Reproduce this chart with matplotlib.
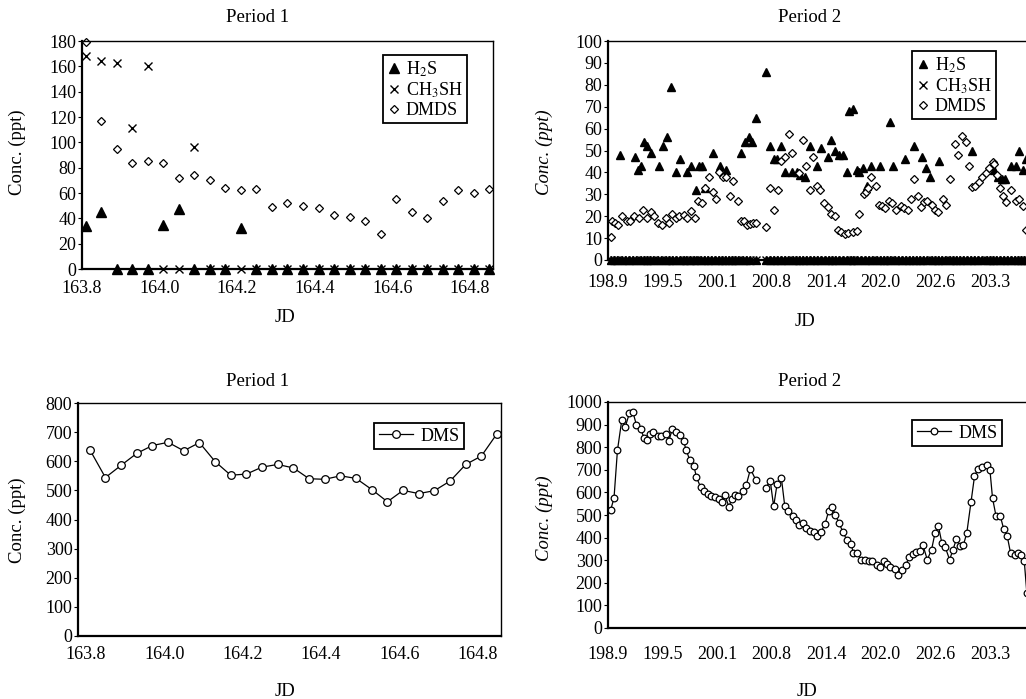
import numpy as np
import matplotlib.pyplot as plt

plt.rcParams['font.family'] = ['Liberation Serif', 'DejaVu Serif']
plt.rcParams['mathtext.fontset'] = 'stix'

# ---- Period 1 (JD 163.8 - 164.9) ----
p1_jd = [163.81, 163.85, 163.89, 163.93, 163.97, 164.01, 164.05, 164.09, 164.13,
         164.17, 164.21, 164.25, 164.29, 164.33, 164.37, 164.41, 164.45, 164.49,
         164.53, 164.57, 164.61, 164.65, 164.69, 164.73, 164.77, 164.81, 164.85]
p1_h2s = [34, 45, 0, 0, 0, 35, 47, 0, 0, 0, 32, 0, 0, 0, 0, 0, 0, 0,
          0, 0, 0, 0, 0, 0, 0, 0, 0]
p1_ch3sh = [168, 164, 163, 111, 160, 0, 0, 96, 0, 0, 0, 0, 0, 0, 0, 0, 0, 0,
            0, 0, 0, 0, 0, 0, 0, 0, 0]
p1_dmds = [179, 117, 95, 84, 85, 84, 72, 74, 70, 64, 62, 63, 49, 52, 50, 48, 43, 41,
           38, 28, 55, 45, 40, 54, 62, 60, 63]
p1_dms = [640, 544, 586, 627, 654, 665, 636, 664, 599, 552, 556, 580, 589, 577, 540,
          538, 550, 541, 503, 461, 500, 489, 499, 532, 589, 618, 695]

# ---- Period 2 (JD 198.9 - 203.8) ----
p2_h2s_jd = [199.04, 199.21, 199.25, 199.28, 199.32, 199.36, 199.40, 199.49, 199.54,
             199.59, 199.63, 199.69, 199.74, 199.82, 199.87, 199.92, 199.96, 199.99,
             200.03, 200.12, 200.21, 200.28, 200.45, 200.50, 200.54, 200.58, 200.62,
             200.74, 200.79, 200.83, 200.87, 200.91, 200.96, 201.04, 201.10, 201.14,
             201.19, 201.25, 201.34, 201.38, 201.46, 201.50, 201.54, 201.59, 201.64,
             201.68, 201.71, 201.76, 201.80, 201.83, 201.87, 201.92, 201.97, 202.07,
             202.18, 202.22, 202.36, 202.47, 202.56, 202.61, 202.65, 202.76, 203.14,
             203.40, 203.44, 203.49, 203.52, 203.60, 203.65, 203.69, 203.73, 203.77]
p2_h2s = [48, 47, 41, 43, 54, 52, 49, 43, 52, 56, 79, 40, 46, 40, 43, 32, 43, 43,
          33, 49, 43, 41, 49, 54, 56, 54, 65, 86, 52, 46, 46, 52, 40, 40, 40, 39,
          38, 52, 43, 51, 47, 55, 50, 48, 48, 40, 68, 69, 41, 40, 42, 34, 43, 43,
          63, 43, 46, 52, 47, 42, 38, 45, 50, 41, 38, 37, 37, 43, 43, 50, 41, 46]

p2_dmds_jd = [198.93, 198.95, 198.98, 199.02, 199.06, 199.12, 199.16, 199.20, 199.26,
              199.31, 199.36, 199.40, 199.44, 199.48, 199.53, 199.57, 199.61, 199.64,
              199.69, 199.73, 199.78, 199.82, 199.87, 199.91, 199.95, 199.99, 200.03,
              200.08, 200.12, 200.16, 200.19, 200.24, 200.28, 200.32, 200.36, 200.41,
              200.45, 200.48, 200.52, 200.56, 200.59, 200.62, 200.74, 200.79, 200.83,
              200.88, 200.92, 200.96, 201.01, 201.04, 201.12, 201.17, 201.21, 201.25,
              201.29, 201.33, 201.37, 201.42, 201.46, 201.50, 201.54, 201.58, 201.62,
              201.66, 201.70, 201.76, 201.80, 201.83, 201.88, 201.91, 201.93, 201.97,
              202.02, 202.06, 202.09, 202.13, 202.17, 202.21, 202.26, 202.31, 202.35,
              202.39, 202.43, 202.47, 202.51, 202.55, 202.58, 202.62, 202.67, 202.71,
              202.75, 202.80, 202.84, 202.88, 202.94, 202.98, 203.02, 203.07, 203.11,
              203.14, 203.18, 203.22, 203.26, 203.30, 203.34, 203.38, 203.40, 203.43,
              203.47, 203.50, 203.54, 203.60, 203.65, 203.69, 203.73, 203.77]
p2_dmds = [10.6, 18, 17, 16, 20, 18, 18, 20, 19, 23, 19, 22, 20, 17, 16, 19, 17, 21,
           19, 20, 20.5, 19, 22.5, 19, 27, 26, 33, 38, 31, 28, 40, 38, 38, 29, 36, 27,
           18, 18, 16, 16.5, 17, 17, 15, 33, 23, 32, 45, 47, 57.5, 49, 39.5, 54.7, 43, 32,
           47, 34, 32, 26, 24, 21, 20, 13.7, 13, 11.7, 12.5, 12.6, 13.4, 21, 30, 31,
           33, 38, 34, 25, 24.6, 23.6, 27, 26, 23, 24.6, 23.6, 23, 27.7, 36.8, 29, 24,
           26.6, 27, 25, 23, 22, 28, 25, 37, 53, 48, 56.5, 54, 43, 33.4, 34, 35.4,
           38, 39.5, 41.8, 44.8, 44, 38.8, 33, 29, 26.6, 32, 27, 27.7, 24.6, 13.7]

# DMS, nan marks the gap in the record
p2_dms_jd = [198.93, 198.97, 199.01, 199.06, 199.10, 199.15, 199.19, 199.23, 199.28,
             199.32, 199.36, 199.39, 199.43, 199.48, 199.52, 199.57, 199.61, 199.65,
             199.69, 199.74, 199.78, 199.81, 199.85, 199.90, 199.93, 199.98, 200.02,
             200.06, 200.10, 200.15, 200.19, 200.23, 200.26, 200.31, 200.34, 200.38,
             200.42, 200.47, 200.51, 200.56, 200.62, 200.68, 200.74, 200.79, 200.83,
             200.87, 200.92, 200.96, 201.00, 201.05, 201.09, 201.13, 201.17, 201.21,
             201.25, 201.30, 201.34, 201.38, 201.43, 201.47, 201.51, 201.55, 201.59,
             201.64, 201.68, 201.73, 201.76, 201.80, 201.85, 201.90, 201.94, 201.98,
             202.03, 202.07, 202.11, 202.15, 202.19, 202.24, 202.28, 202.32, 202.37,
             202.41, 202.45, 202.49, 202.53, 202.57, 202.62, 202.67, 202.71, 202.75,
             202.79, 202.83, 202.88, 202.92, 202.96, 203.00, 203.04, 203.08, 203.13,
             203.17, 203.21, 203.26, 203.31, 203.35, 203.38, 203.42, 203.47, 203.51,
             203.55, 203.59, 203.64, 203.68, 203.71, 203.75, 203.78]
p2_dms = [521, 575, 786, 919, 889, 951, 956, 900, 881, 841, 833, 860, 867, 848, 851,
          860, 829, 882, 866, 855, 826, 789, 745, 718, 668, 622, 605, 594, 583, 580,
          572, 558, 590, 535, 572, 590, 586, 608, 631, 704, 656, np.nan, 620, 652, 538,
          637, 664, 538, 516, 497, 476, 454, 465, 442, 428, 425, 406, 423, 462, 516,
          535, 501, 465, 423, 391, 373, 332, 332, 302, 302, 298, 298, 277, 270, 295,
          283, 270, 261, 236, 258, 280, 313, 327, 336, 342, 366, 302, 347, 420, 450,
          376, 357, 302, 347, 395, 361, 366, 420, 559, 671, 704, 712, 721, 698, 575,
          497, 497, 438, 409, 332, 322, 332, 322, 295, 155]

p1_ticks = [163.8, 164.0, 164.2, 164.4, 164.6, 164.8]
p2_tick_labels = ['198.9', '199.5', '200.1', '200.8', '201.4', '202.0', '202.6', '203.3']
p2_tick_step = 0.6357

W, H = 1026, 699
fig = plt.figure(figsize=(W / 100, H / 100), dpi=100)


def px_axes(left, top, right, bottom):
    return fig.add_axes([left / W, 1 - bottom / H, (right - left) / W, (bottom - top) / H])


def style(ax, xpad):
    for s in ['left', 'bottom']:
        ax.spines[s].set_linewidth(1.6)
    for s in ['top', 'right']:
        ax.spines[s].set_linewidth(1.0)
    ax.tick_params(axis='x', length=0, pad=xpad, labelsize=13)
    ax.tick_params(axis='y', length=3, width=0.8, pad=1, labelsize=13)


def legend(ax, x, y, **kw):
    leg = ax.legend(loc='upper left', bbox_to_anchor=(x / W, 1 - y / H),
                    bbox_transform=fig.transFigure, fancybox=False, framealpha=1,
                    edgecolor='black', fontsize=13, borderpad=0.25, labelspacing=0.1,
                    borderaxespad=0, **kw)
    leg.get_frame().set_linewidth(1.3)


tri = dict(marker='^', color='black', ms=6.5, ls='none', clip_on=False)
crs = dict(marker='x', color='black', ms=6, mew=1.0, ls='none', clip_on=False)
dia = dict(marker='D', mfc='white', mec='black', ms=4.5, mew=0.9, ls='none', clip_on=False)

# ---------- top left ----------
ax1 = px_axes(82, 41, 493, 269)
ax1.plot(p1_jd, p1_h2s, label='H$_2$S', **tri)
ax1.plot(p1_jd, p1_ch3sh, label='CH$_3$SH', **crs)
ax1.plot(p1_jd, p1_dmds, label='DMDS', **dia)
ax1.set_xlim(163.8, 164.86)
ax1.set_ylim(0, 180)
ax1.set_yticks(range(0, 181, 20))
ax1.set_xticks(p1_ticks)
ax1.set_xticklabels([f'{t:.1f}' for t in p1_ticks])
style(ax1, 8)
legend(ax1, 383, 55, handlelength=0.7, handletextpad=0.3)

# ---------- top right ----------
p2_samples = [t for t, v in zip(p2_dms_jd, p2_dms) if not np.isnan(v)]
p2_ticks = [198.9 + k * p2_tick_step for k in range(len(p2_tick_labels))]
tri2 = dict(tri, ms=6)

ax2 = px_axes(608, 41, 1032, 260)
ax2.plot(p2_samples, [0] * len(p2_samples), **tri2)
ax2.plot(p2_h2s_jd, p2_h2s, label='H$_2$S', **tri2)
ax2.plot(p2_samples, [0] * len(p2_samples), label='CH$_3$SH', **crs)
ax2.plot(p2_dmds_jd, p2_dmds, label='DMDS', **dia)
ax2.set_xlim(198.9, 203.84)
ax2.set_ylim(0, 100)
ax2.set_yticks(range(0, 101, 10))
ax2.set_xticks(p2_ticks)
ax2.set_xticklabels(p2_tick_labels)
style(ax2, 10)
legend(ax2, 912, 51, handlelength=0.7, handletextpad=0.3)

# ---------- bottom left ----------
ax3 = px_axes(78, 403, 501, 636)
ax3.plot(p1_jd, p1_dms, color='black', lw=0.9, marker='o', mfc='white', mec='black',
         ms=5.5, mew=0.9, label='DMS')
ax3.set_xlim(163.78, 164.86)
ax3.set_ylim(0, 800)
ax3.set_yticks(range(0, 801, 100))
ax3.set_xticks(p1_ticks)
ax3.set_xticklabels([f'{t:.1f}' for t in p1_ticks])
style(ax3, 7)
legend(ax3, 374, 423, handlelength=1.9, handletextpad=0.4)

# ---------- bottom right ----------
ax4 = px_axes(608, 402, 1032, 628)
ax4.plot(p2_dms_jd, p2_dms, color='black', lw=0.9, marker='o', mfc='white', mec='black',
         ms=4.8, mew=0.9, label='DMS')
ax4.set_xlim(198.9, 203.84)
ax4.set_ylim(0, 1000)
ax4.set_yticks(range(0, 1001, 100))
ax4.set_xticks(p2_ticks)
ax4.set_xticklabels(p2_tick_labels)
style(ax4, 13)
legend(ax4, 912, 420, handlelength=1.9, handletextpad=0.4)

# titles, axis labels placed like the original page
for x, y, s in [(258, 18, 'Period 1'), (810, 18, 'Period 2'),
                (258, 382, 'Period 1'), (810, 382, 'Period 2')]:
    fig.text(x / W, 1 - y / H, s, ha='center', va='center', fontsize=13.5)
for x, y in [(285, 318), (805, 322), (285, 692), (807, 692)]:
    fig.text(x / W, 1 - y / H, 'JD', ha='center', va='center', fontsize=13.5)
for x, y, st in [(17, 152, 'normal'), (544, 152, 'italic'),
                 (17, 520, 'normal'), (544, 518, 'italic')]:
    fig.text(x / W, 1 - y / H, 'Conc. (ppt)', ha='center', va='center', rotation=90,
             fontsize=13.5, style=st)

fig.savefig('out.png', dpi=100)
